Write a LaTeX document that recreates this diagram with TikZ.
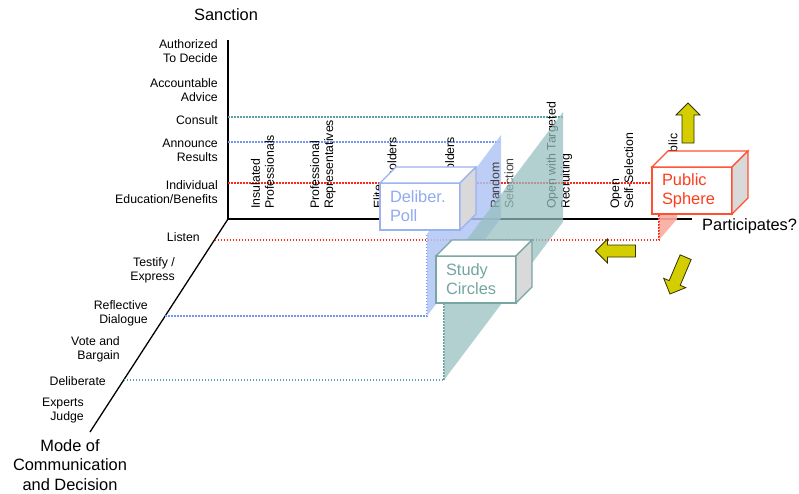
\documentclass[tikz,border=0pt]{standalone}
\usepackage{fontspec}
\setmainfont{Liberation Sans}
\usetikzlibrary{calc}
\definecolor{redline}{RGB}{255,40,25}
\definecolor{blueline}{RGB}{115,150,240}
\definecolor{tealline}{RGB}{95,160,160}
\definecolor{bluebox}{RGB}{155,178,240}
\definecolor{bluetext}{RGB}{145,170,240}
\definecolor{tealbox}{RGB}{120,166,162}
\definecolor{tealtext}{RGB}{115,166,160}
\definecolor{redbox}{RGB}{255,80,50}
\definecolor{redtext}{RGB}{255,60,30}
\definecolor{sidegrey}{RGB}{217,217,217}
\definecolor{arrowfill}{RGB}{212,206,0}
\definecolor{arrowline}{RGB}{50,50,0}
\definecolor{blueplane}{RGB}{176,196,244}
\definecolor{tealplane}{RGB}{150,190,190}
\definecolor{pinkplane}{RGB}{250,170,160}
\tikzset{
  axisline/.style={black, line width=1.3pt},
  dotline/.style={line width=1.7pt, dash pattern=on 1.5pt off 1.5pt},
  lab/.style={inner sep=0pt, align=right, anchor=east, font=\fontsize{12.3}{14}\selectfont},
  plab/.style={inner sep=0pt, align=left, anchor=west, rotate=90, font=\fontsize{12.3}{14}\selectfont},
  title/.style={inner sep=0pt, align=center, font=\fontsize{16.4}{19.5}\selectfont},
  cubefront/.style={draw, fill=white, line width=1.2pt, text width=60pt, inner xsep=10pt, inner ysep=0pt,
    minimum height=47pt, align=left, font=\fontsize{16.4}{19}\selectfont, outer sep=0pt, anchor=north west},
  cubetop/.style={fill=white, line width=1.2pt, line join=miter},
  cubeside/.style={fill=sidegrey, line width=1.2pt, line join=miter},
  yarrow/.style={draw=arrowline, fill=arrowfill, line width=0.8pt, line join=miter},
}
\newcommand{\yellowarrow}{(0,0) -- (12,-12) -- (12,-6) -- (40,-6) -- (40,6) -- (12,6) -- (12,12) -- cycle}
\begin{document}
\begin{tikzpicture}[x=1pt,y=-1pt]
\useasboundingbox (0,0) rectangle (799,493);
% axes
\coordinate (O) at (228,219);
\coordinate (sTop) at (228,40);
\coordinate (pEnd) at (692,219);
\coordinate (mEnd) at (90,432);
\draw[axisline] (sTop) -- (O) -- (pEnd);
\draw[axisline] (O) -- (mEnd);
% axis titles
\node[title] (tS) at (226,15) {Sanction};
\node[title, anchor=west] (tP) at (702,226) {Participates?};
\node[title] (tM) at (70,465) {Mode of\\Communication\\and Decision};
% sanction labels
\node[lab] (s1) at (218,51) {Authorized\\To Decide};
\node[lab] (s2) at (218,90) {Accountable\\Advice};
\node[lab] (s3) at (218,120) {Consult};
\node[lab] (s4) at (218,150.5) {Announce\\Results};
\node[lab] (s5) at (218,192) {Individual\\Education/Benefits};
% mode labels
\node[lab] (m1) at (200,237) {Listen};
\node[lab] (m2) at (175,270.5) {Testify /\\Express};
\node[lab] (m3) at (148,313) {Reflective\\Dialogue};
\node[lab] (m4) at (120,349.5) {Vote and\\Bargain};
\node[lab] (m5) at (106,381) {Deliberate};
\node[lab] (m6) at (84,411) {Experts\\Judge};
% plane corners
\coordinate (bTB) at (501,135);
\coordinate (bBB) at (501,218);
\coordinate (bBF) at (427,316);
\coordinate (bTF) at (427,234);
\coordinate (tTB) at (563,112);
\coordinate (tBB) at (563,222);
\coordinate (tBF) at (444,380);
\coordinate (tTF) at (444,270);
\coordinate (rTB) at (677,183);
\coordinate (rBB) at (677,219);
\coordinate (rBF) at (659,240);
\coordinate (rTF) at (659,204);
% tick points on the axes
\coordinate (kConsult) at (228,117);
\coordinate (kAnnounce) at (228,142);
\coordinate (kIndiv) at (228,183);
\coordinate (kListen) at (214.5,240);
\coordinate (kReflect) at (165,316);
\coordinate (kDelib) at (123.5,380);
% dotted guide lines
\draw[dotline, tealline] (kConsult) -- (kConsult -| tTB);
\draw[dotline, blueline] (kAnnounce) -- (kAnnounce -| bTB);
\draw[dotline, redline] (kIndiv) -- (652,183);
\draw[dotline, redline] (kListen) -- (rBF) -- (rTF);
\draw[dotline, blueline] (kReflect) -- (bBF) -- (bTF);
\draw[dotline, tealline] (kDelib) -- (tBF) -- (tTF);
% blue plane
\fill[blueplane, opacity=0.85] (bTB) -- (bBB) -- (bBF) -- (bTF) -- cycle;
% participant labels
\node[plab] (p1) at (262.5,209) {Insulated\\Professionals};
\node[plab] (p2) at (323,209) {Professional\\Representatives};
\node[plab] (p3) at (385,209) {Elite\\Stakeholders};
\node[plab] (p4) at (443,209) {Lay\\Stakeholders};
\node[plab, text=black!75] (p5) at (502,209) {Random\\Selection};
\node[plab] (p6) at (559.5,209) {Open with Targeted\\Recruiting};
\node[plab] (p7) at (622,209) {Open\\Self-Selection};
\node[plab] (p8) at (673,209) {Diffuse Public};
% teal and pink planes
\fill[tealplane, opacity=0.72] (tTB) -- (tBB) -- (tBF) -- (tTF) -- cycle;
\fill[pinkplane, opacity=0.9] (rTB) -- (rBB) -- (rBF) -- (rTF) -- cycle;
\draw[dotline, redline] (rBF) -- (rTF);
% cube: Deliber. Poll
\node[cubefront, draw=bluebox, text=bluetext] (poll) at (380,183) {Deliber.\\Poll};
\draw[cubetop, draw=bluebox] (poll.north west) -- ++(16,-16) -- ($(poll.north east)+(16,-16)$) -- (poll.north east) -- cycle;
\draw[cubeside, draw=bluebox] (poll.north east) -- ++(16,-16) -- ($(poll.south east)+(16,-16)$) -- (poll.south east) -- cycle;
% cube: Study Circles
\node[cubefront, draw=tealbox, text=tealtext] (study) at (436,256) {Study\\Circles};
\draw[cubetop, draw=tealbox] (study.north west) -- ++(16,-16) -- ($(study.north east)+(16,-16)$) -- (study.north east) -- cycle;
\draw[cubeside, draw=tealbox] (study.north east) -- ++(16,-16) -- ($(study.south east)+(16,-16)$) -- (study.south east) -- cycle;
% cube: Public Sphere
\node[cubefront, draw=redbox, text=redtext] (public) at (652,167) {Public\\Sphere};
\draw[cubetop, draw=redbox] (public.north west) -- ++(16,-16) -- ($(public.north east)+(16,-16)$) -- (public.north east) -- cycle;
\draw[cubeside, draw=redbox] (public.north east) -- ++(16,-16) -- ($(public.south east)+(16,-16)$) -- (public.south east) -- cycle;
% yellow arrows
\begin{scope}[shift={(595.5,251)}]
  \draw[yarrow] \yellowarrow;
\end{scope}
\begin{scope}[shift={(688,103)}, rotate=-90]
  \draw[yarrow] \yellowarrow;
\end{scope}
\begin{scope}[shift={(670,294)}, rotate=67]
  \draw[yarrow] \yellowarrow;
\end{scope}
\end{tikzpicture}
\end{document}
